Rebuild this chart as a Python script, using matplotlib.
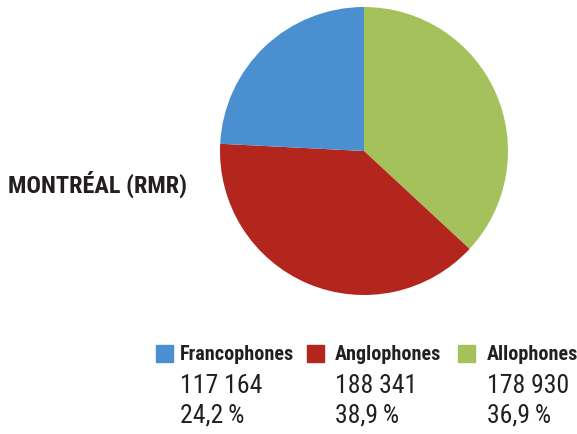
import matplotlib
matplotlib.use("Agg")
import matplotlib.pyplot as plt

title = "MONTRÉAL (RMR)"
categories = ["Francophones", "Anglophones", "Allophones"]
counts = ["117 164", "188 341", "178 930"]
percents = [24.2, 38.9, 36.9]
colors = ["#4A8FCF", "#B2261E", "#A5C15C"]

BOLD = ["Roboto Condensed", "DejaVu Sans"]
REG = ["Roboto Condensed", "DejaVu Sans"]
TXT = "#231F20"

fig = plt.figure(figsize=(5.77, 4.34), dpi=100)
W, H = 577, 434
cx, cy, r = 364, 151, 144
ax = fig.add_axes([(cx - r) / W, (H - cy - r) / H, 2 * r / W, 2 * r / H])
# drawn clockwise from top: Allophones, Anglophones, Francophones
order = [2, 1, 0]
ax.pie([percents[i] for i in order], colors=[colors[i] for i in order],
       startangle=90, counterclock=False, radius=1.0,
       wedgeprops=dict(linewidth=0))
ax.set_xlim(-1, 1)
ax.set_ylim(-1, 1)
ax.set_aspect("equal")
ax.axis("off")

fig.text(8 / W, 1 - 184 / H, title, family=BOLD, fontweight="bold",
         fontsize=17.5, color=TXT, va="center", ha="left")

sq_x = [156, 307, 458]
tx = [180, 335, 487]
for i, cat in enumerate(categories):
    fig.patches.append(plt.Rectangle((sq_x[i] / W, 1 - 362 / H), 17 / W, 17 / H,
                                     transform=fig.transFigure, color=colors[i]))
    fig.text(tx[i] / W, 1 - 355 / H, cat, family=BOLD, fontweight="bold",
             fontsize=14.5, color=TXT, va="center", ha="left")
    fig.text(tx[i] / W, 1 - 386 / H, counts[i], family=REG,
             fontsize=18.5, color=TXT, va="center", ha="left")
    fig.text(tx[i] / W, 1 - 416 / H, f"{percents[i]:.1f}".replace(".", ",") + "\u2009%",
             family=REG, fontsize=18.5, color=TXT, va="center", ha="left")

fig.savefig("out.png", dpi=100)
